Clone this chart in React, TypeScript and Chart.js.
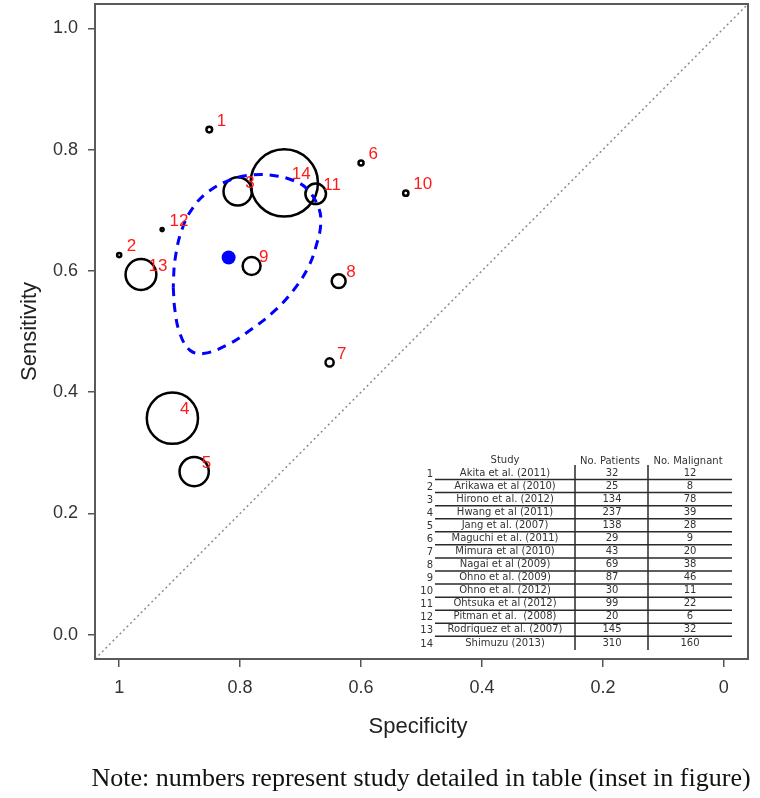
import React, { useEffect, useRef } from "react";
import { Chart, registerables } from "chart.js";

Chart.register(...registerables);

// ---------- data ----------
const STUDY_IDS = ["1", "2", "3", "4", "5", "6", "7", "8", "9", "10", "11", "12", "13", "14"];
const STUDY_NAMES = [
  "Akita et al. (2011)",
  "Arikawa et al (2010)",
  "Hirono et al. (2012)",
  "Hwang et al (2011)",
  "Jang et al. (2007)",
  "Maguchi et al. (2011)",
  "Mimura et al (2010)",
  "Nagai et al (2009)",
  "Ohno et al. (2009)",
  "Ohno et al. (2012)",
  "Ohtsuka et al (2012)",
  "Pitman et al.  (2008)",
  "Rodriquez et al. (2007)",
  "Shimuzu (2013)",
];
const PATIENTS = [32, 25, 134, 237, 138, 29, 43, 69, 87, 30, 99, 20, 145, 310];
const MALIGNANT = [12, 8, 78, 39, 28, 9, 20, 38, 46, 11, 22, 6, 32, 160];
const SPECIFICITY = [0.851, 1.0, 0.804, 0.912, 0.876, 0.6, 0.652, 0.637, 0.781, 0.526, 0.675, 0.929, 0.964, 0.727];
const SENSITIVITY = [0.833, 0.626, 0.731, 0.357, 0.269, 0.778, 0.449, 0.583, 0.608, 0.728, 0.727, 0.668, 0.594, 0.745];

const SUMMARY_SPEC = [0.819];
const SUMMARY_SENS = [0.622];

const ELLIPSE_SPEC = [
  0.9106, 0.9078, 0.8995, 0.883, 0.8609, 0.8222, 0.7836, 0.745, 0.7119, 0.6871, 0.6732,
  0.6666, 0.6705, 0.6897, 0.7119, 0.745, 0.7781, 0.8113, 0.8499, 0.8775, 0.8967, 0.9078,
];
const ELLIPSE_SENS = [
  0.5733, 0.535, 0.4966, 0.4691, 0.4637, 0.4774, 0.5021, 0.5322, 0.5679, 0.6063, 0.6448,
  0.6777, 0.705, 0.7353, 0.749, 0.7572, 0.7584, 0.7518, 0.7325, 0.705, 0.6667, 0.6173,
];

const X_TICKS = [1, 0.8, 0.6, 0.4, 0.2, 0];
const X_TICK_LABELS = ["1", "0.8", "0.6", "0.4", "0.2", "0"];
const Y_TICKS = [0, 0.2, 0.4, 0.6, 0.8, 1.0];
const Y_TICK_LABELS = ["0.0", "0.2", "0.4", "0.6", "0.8", "1.0"];

const AXIS_MIN = -0.04;
const AXIS_MAX = 1.04;

const TABLE_HEADERS = ["Study", "No. Patients", "No. Malignant"];
const NOTE = "Note: numbers represent study detailed in table (inset in figure)";

// ---------- sizes ----------
const W = 760;
const H = 798;

function labelFor(list: number[], labels: string[], v: number) {
  const i = list.findIndex((t) => Math.abs(t - v) < 1e-6);
  return i >= 0 ? labels[i] : "";
}

function zeroPad(s: any) {
  s.paddingTop = 0;
  s.paddingBottom = 0;
  s.paddingLeft = 0;
  s.paddingRight = 0;
}

const decorPlugin = {
  id: "decor",
  afterDatasetsDraw(chart: any) {
    const ctx = chart.ctx as CanvasRenderingContext2D;
    const meta = chart.getDatasetMeta(1);
    ctx.save();
    ctx.fillStyle = "#ff1a1a";
    ctx.font = "17px Arial, 'Liberation Sans', sans-serif";
    ctx.textAlign = "left";
    ctx.textBaseline = "middle";
    meta.data.forEach((el: any, i: number) => {
      ctx.fillText(STUDY_IDS[i], el.x + 7.5, el.y - 8.5);
    });
    ctx.restore();
  },
  afterDraw(chart: any) {
    const ctx = chart.ctx as CanvasRenderingContext2D;
    const a = chart.chartArea;
    ctx.save();
    ctx.strokeStyle = "#5a5a5a";
    ctx.lineWidth = 2;
    ctx.strokeRect(a.left, a.top, a.right - a.left, a.bottom - a.top);

    ctx.fillStyle = "#222";
    ctx.font = "22px Arial, 'Liberation Sans', sans-serif";
    ctx.textAlign = "center";
    ctx.textBaseline = "middle";
    ctx.fillText("Specificity", 418, 727);
    ctx.save();
    ctx.translate(30, (a.top + a.bottom) / 2);
    ctx.rotate(-Math.PI / 2);
    ctx.fillText("Sensitivity", 0, 0);
    ctx.restore();

    // inset table
    const pitch = 13.07;
    ctx.fillStyle = "#333";
    ctx.font = "10px 'DejaVu Sans', Verdana, sans-serif";
    ctx.textBaseline = "middle";
    ctx.textAlign = "center";
    ctx.fillText(TABLE_HEADERS[0], 505, 460);
    ctx.fillText(TABLE_HEADERS[1], 610, 461);
    ctx.fillText(TABLE_HEADERS[2], 688, 461);
    for (let i = 0; i < STUDY_NAMES.length; i++) {
      const y = 473 + i * pitch;
      ctx.textAlign = "right";
      ctx.fillText(STUDY_IDS[i], 433, y + 1);
      ctx.textAlign = "center";
      ctx.fillText(STUDY_NAMES[i], 505, y);
      ctx.fillText(String(PATIENTS[i]), 612, y);
      ctx.fillText(String(MALIGNANT[i]), 690, y);
    }
    ctx.strokeStyle = "#2a2a2a";
    ctx.lineWidth = 1.5;
    ctx.beginPath();
    for (let i = 0; i < STUDY_NAMES.length - 1; i++) {
      const y = 479.5 + i * pitch;
      ctx.moveTo(435, y);
      ctx.lineTo(732, y);
    }
    ctx.moveTo(575, 465);
    ctx.lineTo(575, 650);
    ctx.moveTo(648, 465);
    ctx.lineTo(648, 650);
    ctx.stroke();
    ctx.restore();
  },
};

export default function App() {
  const ref = useRef<HTMLCanvasElement | null>(null);

  useEffect(() => {
    if (!ref.current) return;
    const studies = SPECIFICITY.map((s, i) => ({ x: s, y: SENSITIVITY[i] }));
    const summary = SUMMARY_SPEC.map((s, i) => ({ x: s, y: SUMMARY_SENS[i] }));
    const ellipse = ELLIPSE_SPEC.map((s, i) => ({ x: s, y: ELLIPSE_SENS[i] }));
    ellipse.push({ ...ellipse[0] });
    const diag = [
      { x: AXIS_MAX, y: 1 - AXIS_MAX },
      { x: AXIS_MIN, y: 1 - AXIS_MIN },
    ];

    const chart = new Chart(ref.current, {
      type: "scatter",
      data: {
        datasets: [
          {
            type: "scatter",
            label: "Summary",
            data: summary,
            pointRadius: 7,
            pointBackgroundColor: "#0000ff",
            pointBorderColor: "#0000ff",
            pointBorderWidth: 0,
            order: 0,
          },
          {
            type: "scatter",
            label: "Studies",
            data: studies,
            pointRadius: (c: any) => Math.max(1, 0.111 * PATIENTS[c.dataIndex] - 0.7),
            pointBackgroundColor: "rgba(0,0,0,0)",
            pointBorderColor: "#000",
            pointBorderWidth: 2.5,
            order: 2,
          },
          {
            type: "line",
            label: "Confidence region",
            data: ellipse,
            borderColor: "#0000ff",
            borderWidth: 3,
            borderDash: [9, 7],
            tension: 0.4,
            pointRadius: 0,
            fill: false,
            order: 1,
          },
          {
            type: "line",
            label: "Chance",
            data: diag,
            borderColor: "#8c8c8c",
            borderWidth: 1.5,
            borderDash: [2, 3],
            pointRadius: 0,
            fill: false,
            order: 3,
          },
        ] as any,
      },
      options: {
        animation: false,
        responsive: false,
        devicePixelRatio: 1,
        events: [],
        layout: { autoPadding: false, padding: { top: 4, right: 12, left: 0, bottom: 0 } },
        plugins: {
          legend: { display: false },
          tooltip: { enabled: false },
        },
        scales: {
          x: {
            type: "linear",
            reverse: true,
            min: AXIS_MIN,
            max: AXIS_MAX,
            afterBuildTicks: (s: any) => {
              s.ticks = X_TICKS.map((v) => ({ value: v }));
            },
            afterFit: (s: any) => {
              s.height = H - 659;
              zeroPad(s);
            },
            border: { display: false },
            grid: {
              drawOnChartArea: false,
              drawTicks: true,
              tickLength: 8,
              color: "#555",
              lineWidth: 1.5,
            },
            ticks: {
              padding: 10,
              color: "#333",
              font: { family: "Arial, 'Liberation Sans', sans-serif", size: 18 },
              maxRotation: 0,
              autoSkip: false,
              callback: (v: any) => labelFor(X_TICKS, X_TICK_LABELS, Number(v)),
            },
          },
          y: {
            type: "linear",
            min: AXIS_MIN,
            max: AXIS_MAX,
            afterBuildTicks: (s: any) => {
              s.ticks = Y_TICKS.map((v) => ({ value: v }));
            },
            afterFit: (s: any) => {
              s.width = 95;
              zeroPad(s);
            },
            border: { display: false },
            grid: {
              drawOnChartArea: false,
              drawTicks: true,
              tickLength: 7,
              color: "#555",
              lineWidth: 1.5,
            },
            ticks: {
              padding: 10,
              color: "#333",
              font: { family: "Arial, 'Liberation Sans', sans-serif", size: 18 },
              autoSkip: false,
              callback: (v: any) => labelFor(Y_TICKS, Y_TICK_LABELS, Number(v)),
            },
          },
        },
      } as any,
      plugins: [decorPlugin],
    });
    return () => chart.destroy();
  }, []);

  return (
    <div style={{ position: "absolute", left: 0, top: 0, width: W, height: H, background: "#fff" }}>
      <canvas ref={ref} width={W} height={H} style={{ display: "block", width: W, height: H }} />
      <div
        style={{
          position: "absolute",
          left: 0,
          top: 763,
          width: 842,
          textAlign: "center",
          fontFamily: "'Liberation Serif', 'Times New Roman', serif",
          fontSize: 26,
          lineHeight: "30px",
          color: "#111",
          whiteSpace: "nowrap",
        }}
      >
        {NOTE}
      </div>
    </div>
  );
}
